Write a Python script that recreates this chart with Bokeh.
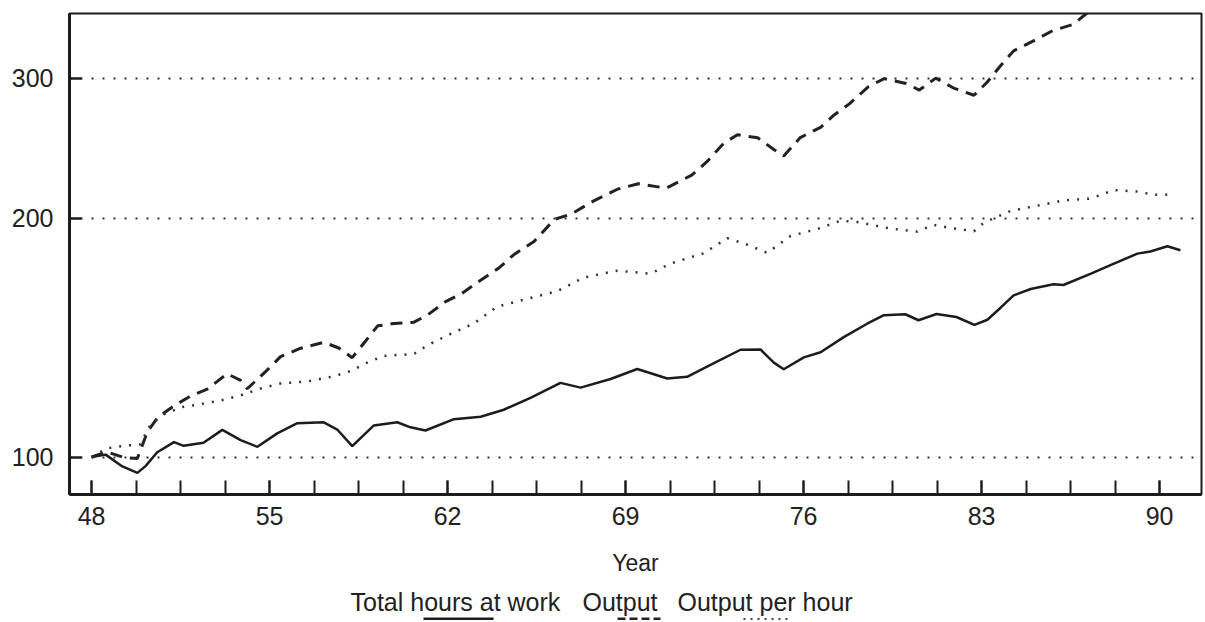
from bokeh.plotting import figure
from bokeh.models import Range1d, FixedTicker, PrintfTickFormatter
from bokeh.layouts import column
from bokeh.core.properties import value
from bokeh.embed import file_html
from bokeh.resources import INLINE

# ---------------- data (index, 1948 = 100; years as two-digit numbers) ----------------
hours_years = [48.0, 48.55, 49.21, 49.8, 50.12, 50.58, 51.24, 51.62, 52.4, 53.14,
               53.86, 54.52, 55.3, 56.09, 57.13, 57.66, 58.25, 59.1, 60.02, 60.54,
               61.13, 62.25, 63.3, 64.21, 65.26, 66.44, 67.23, 68.41, 69.46, 70.64,
               71.42, 72.34, 73.52, 74.31, 74.83, 75.22, 76.01, 76.67, 77.58, 78.5,
               79.16, 80.0, 80.52, 81.23, 82.01, 82.72, 83.23, 83.75, 84.26, 84.93,
               85.83, 86.22, 87.28, 88.07, 89.13, 89.64, 90.31, 90.82]
hours_values = [100, 100.7, 97.3, 95.5, 97.4, 101.4, 104.4, 103.3, 104.2, 108.2,
                105.0, 103.0, 107.1, 110.3, 110.6, 108.3, 103.2, 109.6, 110.6, 109.0,
                108.0, 111.6, 112.4, 114.7, 118.7, 124.0, 122.3, 125.4, 129.1, 125.6,
                126.2, 130.6, 136.5, 136.6, 131.5, 129.0, 133.5, 135.5, 141.6, 147.2,
                150.9, 151.3, 148.7, 151.4, 150.1, 146.7, 148.9, 154.2, 159.8, 162.8,
                165.1, 164.7, 170.1, 174.5, 180.4, 181.5, 184.3, 182.2]

output_years = [48.0, 48.6, 49.3, 49.8, 50.2, 50.6, 51.24, 51.9, 52.55, 53.33,
                53.86, 54.12, 54.84, 55.43, 56.22, 57.13, 57.72, 58.25, 58.72, 59.25,
                59.89, 60.66, 61.2, 61.9, 62.55, 63.2, 64.0, 64.6, 65.4, 66.2,
                66.84, 67.75, 68.7, 69.5, 70.6, 71.6, 72.2, 72.86, 73.4, 74.2,
                74.83, 75.22, 75.87, 76.67, 77.2, 77.8, 78.55, 79.17, 80.03, 80.55,
                81.2, 81.9, 82.7, 83.2, 83.74, 84.26, 85.06, 85.8, 86.6, 87.15]
output_values = [100, 101.5, 99.8, 99.6, 107.7, 112.2, 116.0, 119.4, 121.8, 127.3,
                 124.9, 121.9, 128.1, 133.8, 137.1, 139.5, 137.2, 133.4, 139.3, 146.3,
                 147.3, 147.8, 150.9, 156.8, 160.6, 166.2, 172.9, 179.8, 186.9, 199.2,
                 202.2, 210.2, 217.6, 220.9, 218.1, 226.5, 235.5, 248.5, 254.6, 252.4,
                 244.0, 239.4, 252.6, 260.2, 269.7, 278.5, 292.8, 299.7, 295.5, 289.9,
                 300.1, 291.6, 285.6, 296.1, 310.9, 324.8, 334.6, 344.5, 350.7, 362.5]

perhour_years = [48.0, 48.62, 49.4, 49.9, 50.32, 50.84, 51.5, 52.29, 53.07, 53.86,
                 54.65, 55.43, 56.48, 57.53, 58.18, 58.84, 59.49, 60.67, 61.2, 61.99,
                 63.03, 63.95, 65.26, 66.31, 67.36, 68.67, 69.98, 70.77, 72.08, 73.0,
                 73.79, 74.57, 75.49, 76.54, 77.45, 78.11, 79.42, 80.47, 81.11, 81.78,
                 82.7, 83.09, 84.14, 85.19, 86.23, 87.28, 88.2, 89.12, 89.77, 90.56]
perhour_values = [100, 102.6, 103.4, 103.7, 109.9, 113.2, 115.5, 116.6, 117.8, 119.6,
                  122.0, 123.8, 124.5, 126.4, 128.3, 131.5, 134.1, 134.8, 138.2, 142.3,
                  147.3, 154.7, 158.6, 161.8, 168.3, 171.7, 170.2, 175.3, 180.6, 188.7,
                  185.1, 180.8, 189.9, 193.7, 198.5, 197.7, 194.0, 192.3, 196.1, 194.3,
                  192.5, 197.3, 204.2, 207.3, 210.5, 211.6, 216.9, 216.0, 214.0, 214.1]

x_tick_labels = [48, 55, 62, 69, 76, 83, 90]
y_tick_labels = [100, 200, 300]
legend_labels = ["Total hours at work", "Output", "Output per hour"]
x_axis_title = "Year"

# ---------------- styling ----------------
FONT = "Liberation Sans"
INK = "#1c1c1c"

p = figure(width=1205, height=588,
           x_range=Range1d(47.13, 91.65), y_range=Range1d(89.7, 362),
           y_axis_type="log",
           output_backend="svg", toolbar_location=None,
           min_border_left=69, min_border_right=4, min_border_top=13, min_border_bottom=94)
p.background_fill_color = "white"
p.border_fill_color = "white"
p.outline_line_color = INK
p.outline_line_width = 2

# x axis
minor = [x_tick_labels[0] + 1.75 * i for i in range(25)]
p.xaxis.ticker = FixedTicker(ticks=x_tick_labels, minor_ticks=minor)
p.xaxis.axis_line_width = 3
p.xaxis.axis_line_color = INK
p.xaxis.major_tick_in = 14
p.xaxis.major_tick_out = 0
p.xaxis.minor_tick_in = 14
p.xaxis.minor_tick_out = 0
p.xaxis.major_tick_line_width = 2
p.xaxis.minor_tick_line_width = 2
p.xaxis.major_tick_line_color = INK
p.xaxis.minor_tick_line_color = INK
p.xaxis.major_label_text_font = FONT
p.xaxis.major_label_text_font_size = "25px"
p.xaxis.major_label_text_color = "#222"
p.xaxis.major_label_standoff = 12
p.xaxis.axis_label = x_axis_title
p.xaxis.axis_label_text_font = FONT
p.xaxis.axis_label_text_font_size = "23px"
p.xaxis.axis_label_text_font_style = "normal"
p.xaxis.axis_label_text_color = "#222"
p.xaxis.axis_label_standoff = 22
p.xgrid.visible = False

# y axis
p.yaxis.ticker = FixedTicker(ticks=y_tick_labels)
p.yaxis.formatter = PrintfTickFormatter(format="%d")
p.yaxis.axis_line_width = 3
p.yaxis.axis_line_color = INK
p.yaxis.major_tick_in = 12
p.yaxis.major_tick_out = 0
p.yaxis.major_tick_line_width = 2.5
p.yaxis.major_tick_line_color = INK
p.yaxis.minor_tick_line_color = None
p.yaxis.major_label_text_font = FONT
p.yaxis.major_label_text_font_size = "25px"
p.yaxis.major_label_text_color = "#222"
p.yaxis.major_label_standoff = 16
p.ygrid.grid_line_color = "#333333"
p.ygrid.grid_line_dash = "2 9"
p.ygrid.grid_line_width = 2

# series
p.line(hours_years, hours_values, line_color=INK, line_width=2.5)
p.line(output_years, output_values, line_color="#222", line_width=3, line_dash="12 8")
p.line(perhour_years, perhour_values, line_color="#333", line_width=2.5, line_dash="2 8")

# legend strip (text above its line sample); its frame is aligned with the main frame (69..1201 px)
leg = figure(width=1205, height=32, x_range=Range1d(69, 1201), y_range=Range1d(0, 32),
             output_backend="svg", toolbar_location=None,
             x_axis_location=None, y_axis_location=None,
             min_border_left=69, min_border_right=4, min_border_top=0, min_border_bottom=0)
leg.outline_line_color = None
leg.xgrid.visible = False
leg.ygrid.visible = False
leg.background_fill_color = "white"
leg.border_fill_color = "white"
leg.text(x=[350, 582, 677], y=[18.5, 18.5, 18.5], text=legend_labels,
         text_font=value(FONT), text_font_size="25px", text_color="#222",
         text_baseline="alphabetic", text_align="left")
leg.line([423, 493], [1.5, 1.5], line_color=INK, line_width=3)
leg.line([617, 660], [1.5, 1.5], line_color="#222", line_width=3, line_dash="8 4")
leg.line([743, 790], [1.5, 1.5], line_color="#444", line_width=2, line_dash="2 5")

layout = column(p, leg, spacing=0)
open("out.html", "w").write(file_html(layout, INLINE))
